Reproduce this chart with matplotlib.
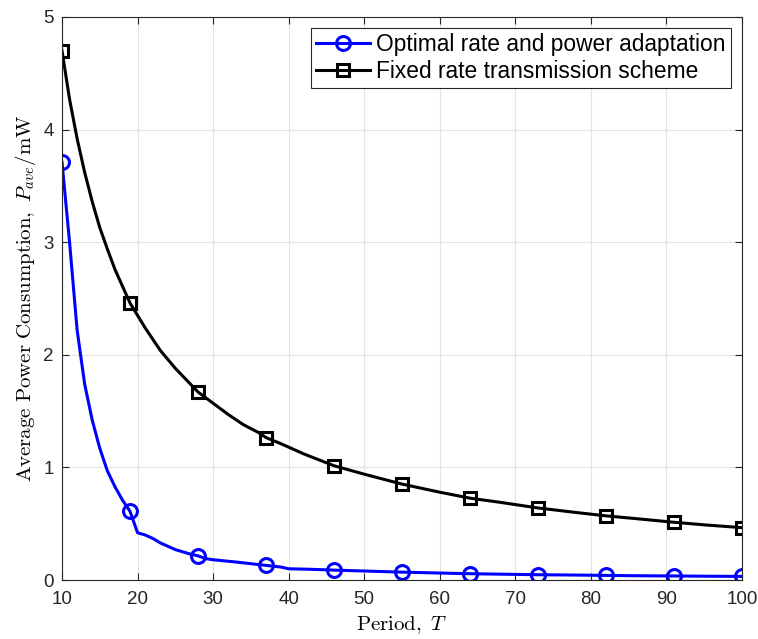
import matplotlib
matplotlib.use("Agg")
import matplotlib.pyplot as plt
import numpy as np

plt.rcParams['mathtext.fontset'] = 'cm'
plt.rcParams['font.family'] = ['Liberation Sans', 'DejaVu Sans']

# period values (line samples) and readings
T_opt = [10, 11, 12, 13, 14, 15, 16, 17, 18, 19, 20, 21, 22, 23, 24, 25, 26, 27, 28,
         29, 30, 33, 37, 39, 40, 43, 46, 50, 55, 60, 64, 68, 73, 78, 82, 86, 91, 95, 100]
P_opt = [3.71, 3.00, 2.22, 1.74, 1.42, 1.17, 0.97, 0.83, 0.71, 0.61, 0.42, 0.40, 0.37,
         0.33, 0.30, 0.27, 0.25, 0.23, 0.215, 0.19, 0.18, 0.16, 0.13, 0.115, 0.10, 0.095,
         0.088, 0.08, 0.07, 0.062, 0.056, 0.052, 0.047, 0.044, 0.041, 0.038, 0.036, 0.034, 0.032]

T_fix = [10, 11, 12, 13, 14, 15, 16, 17, 18, 19, 20, 21, 22, 23, 24, 25, 26, 27, 28, 29,
         30, 32, 34, 36, 37, 39, 42, 46, 50, 55, 60, 64, 68, 73, 78, 82, 86, 91, 95, 100]
P_fix = [4.70, 4.27, 3.92, 3.62, 3.36, 3.13, 2.94, 2.76, 2.61, 2.46, 2.35, 2.24, 2.14,
         2.04, 1.96, 1.88, 1.81, 1.74, 1.67, 1.62, 1.57, 1.47, 1.38, 1.31, 1.265, 1.21,
         1.12, 1.015, 0.94, 0.852, 0.78, 0.727, 0.69, 0.64, 0.60, 0.57, 0.545, 0.513,
         0.49, 0.465]

T_marks = [10, 19, 28, 37, 46, 55, 64, 73, 82, 91, 100]

fig = plt.figure(figsize=(7.58, 6.39), dpi=100)
ax = fig.add_axes([0.0818, 0.0923, 0.897, 0.8811])

ax.plot(T_opt, P_opt, color='#0000ff', lw=2.2, marker='o', ms=10, mew=2.2, mfc='none',
        markevery=list(np.where(np.isin(T_opt, T_marks))[0]),
        label='Optimal rate and power adaptation')
ax.plot(T_fix, P_fix, color='black', lw=2.2, marker='s', ms=8.5, mew=2.2, mfc='none',
        markevery=list(np.where(np.isin(T_fix, T_marks))[0]),
        label='Fixed rate transmission scheme')

ax.set_xlim(10, 100)
ax.set_ylim(0, 5)
ax.set_xticks(range(10, 101, 10))
ax.set_yticks(range(0, 6))
ax.grid(True, color='#e3e3e3', lw=0.8)
ax.set_axisbelow(True)
ax.tick_params(direction='in', top=True, right=True, labelsize=13.5, length=5,
               color='#262626', labelcolor='#262626')
ax.tick_params(axis='x', pad=8)
ax.tick_params(axis='y', pad=6)
for s in ax.spines.values():
    s.set_color('#262626')

ax.set_xlabel(r'$\mathrm{Period,}\ T$', fontsize=15, labelpad=4)
ax.set_ylabel(r'$\mathrm{Average\ Power\ Consumption,}\ P_{ave}/\mathrm{mW}$', fontsize=15, labelpad=4)

leg = ax.legend(loc='upper right', fontsize=16.4, fancybox=False, edgecolor='#262626',
                framealpha=1, handlelength=2.4, borderpad=0.22, labelspacing=0.15,
                handletextpad=0.25, borderaxespad=0.5)
leg.get_frame().set_linewidth(0.8)

fig.savefig('out.png', dpi=100)
